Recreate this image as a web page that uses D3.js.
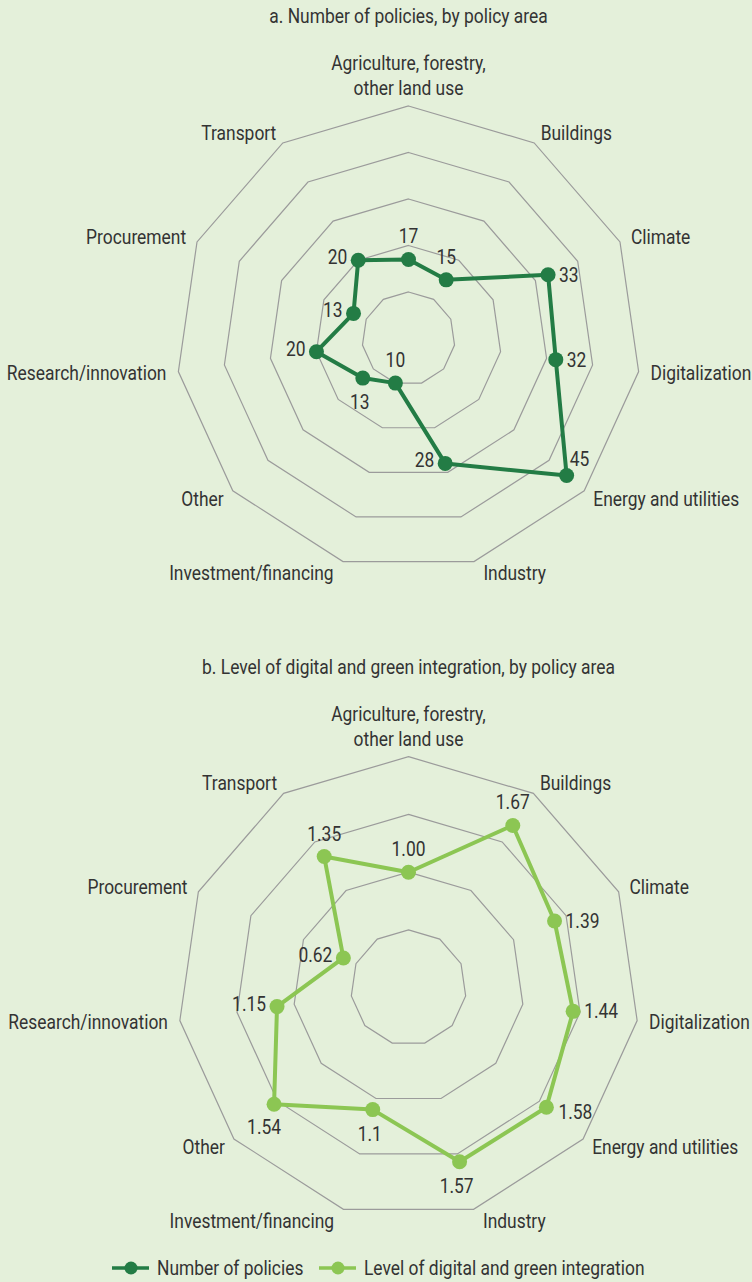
<!DOCTYPE html>
<html>
<head>
<meta charset="utf-8">
<script src="https://cdn.jsdelivr.net/npm/d3@7"></script>
<style>
  body { margin: 0; background: #e4f0da; }
  text { font-family: Roboto, "Noto Sans", sans-serif; fill: #333; font-size: 20px; }
</style>
</head>
<body>
<script>
// Data
const categories = [
  "Agriculture, forestry,|other land use", "Buildings", "Climate", "Digitalization",
  "Energy and utilities", "Industry", "Investment/financing", "Other",
  "Research/innovation", "Procurement", "Transport"
];
const policyCounts = [17, 15, 33, 32, 45, 28, 10, 13, 20, 13, 20];
const integrationLevels = [1.00, 1.67, 1.39, 1.44, 1.58, 1.57, 1.1, 1.54, 1.15, 0.62, 1.35];
const integrationLabels = ["1.00", "1.67", "1.39", "1.44", "1.58", "1.57", "1.1", "1.54", "1.15", "0.62", "1.35"];
const ringsA = [10, 20, 30, 40, 50];
const ringsB = [0.5, 1.0, 1.5, 2.0];
const placeA = ["above", "above", "right", "right", "aboveRight", "left", "above", "below", "left", "left", "left"];
const placeB = ["above", "above", "right", "right", "rightLow", "below", "below", "belowLeft", "left", "left", "above"];

const width = 752, height = 1282;
const darkGreen = "#237c45", lightGreen = "#8cc653";

const svg = d3.select("body").append("svg")
  .attr("width", width).attr("height", height);
svg.append("rect").attr("width", width).attr("height", height).attr("fill", "#e4f0da");

// condensed text helper
function label(g, x, y, txt, anchor, dy) {
  return g.append("text")
    .attr("transform", `translate(${x},${y}) scale(0.87,1)`)
    .attr("text-anchor", anchor || "middle")
    .attr("dy", dy || null)
    .text(txt);
}

const n = categories.length;
const angle = i => i * 2 * Math.PI / n;

function drawRadar(opts) {
  const g = svg.append("g").attr("transform", `translate(${opts.cx},${opts.cy})`);
  const r = d3.scaleLinear().domain([0, opts.max]).range([0, opts.radius]);
  const R = opts.radius;

  // Title
  label(g, 0, -R - 83, opts.title, "middle");

  // Grid rings
  const ringLine = d3.lineRadial().angle((d, i) => angle(i)).radius(d => d).curve(d3.curveLinearClosed);
  opts.rings.forEach(v => {
    g.append("path").attr("d", ringLine(d3.range(n).map(() => r(v))))
      .attr("fill", "none").attr("stroke", "#9b9b9b").attr("stroke-width", 1.2);
  });

  // Category labels
  categories.forEach((c, i) => {
    const a = angle(i);
    const s = Math.sin(a), co = Math.cos(a);
    if (i === 0) {
      c.split("|").forEach((p, k) => label(g, 0, -R - 36 + k * 25, p, "middle"));
      return;
    }
    const rr = R + 12;
    label(g, rr * s + (Math.abs(co) > 0.9 ? 6 * Math.sign(s) : 0), -rr * co, c,
      s > 0 ? "start" : "end", "0.35em");
  });

  // Series
  const line = d3.lineRadial().angle((d, i) => angle(i)).radius(d => r(d)).curve(d3.curveLinearClosed);
  g.append("path").attr("d", line(opts.values))
    .attr("fill", "none").attr("stroke", opts.color).attr("stroke-width", 4).attr("stroke-linejoin", "round");

  opts.values.forEach((v, i) => {
    const x = r(v) * Math.sin(angle(i)), y = -r(v) * Math.cos(angle(i));
    g.append("circle").attr("cx", x).attr("cy", y).attr("r", 7.5).attr("fill", opts.color);
    const p = opts.place[i], t = opts.labels[i];
    if (p === "above") label(g, x, y - 16, t, "middle");
    else if (p === "below") label(g, x - 3, y + 31, t, "middle");
    else if (p === "belowLeft") label(g, x - 10, y + 30, t, "middle");
    else if (p === "right") label(g, x + 11, y + 7, t, "start");
    else if (p === "rightLow") label(g, x + 12, y + 12, t, "start");
    else if (p === "left") label(g, x - 11, y + 4, t, "end");
    else if (p === "aboveRight") label(g, x + 3, y - 10, t, "start");
  });
}

drawRadar({
  cx: 408.5, cy: 338.5, radius: 232.5, max: 50, rings: ringsA,
  values: policyCounts, labels: policyCounts.map(String), place: placeA,
  color: darkGreen, title: "a. Number of policies, by policy area"
});

drawRadar({
  cx: 408.5, cy: 987.7, radius: 231, max: 2, rings: ringsB,
  values: integrationLevels, labels: integrationLabels, place: placeB,
  color: lightGreen, title: "b. Level of digital and green integration, by policy area"
});

// Legend
const legendItems = [
  {name: "Number of policies", color: darkGreen, x: 112},
  {name: "Level of digital and green integration", color: lightGreen, x: 319}
];
const lg = svg.append("g").attr("transform", "translate(0,1268)");
legendItems.forEach(d => {
  lg.append("line").attr("x1", d.x).attr("x2", d.x + 37).attr("y1", 0).attr("y2", 0)
    .attr("stroke", d.color).attr("stroke-width", 3.5);
  lg.append("circle").attr("cx", d.x + 19).attr("cy", 0).attr("r", 6.5).attr("fill", d.color);
  label(lg, d.x + 45, 0, d.name, "start", "0.35em");
});
</script>
</body>
</html>
